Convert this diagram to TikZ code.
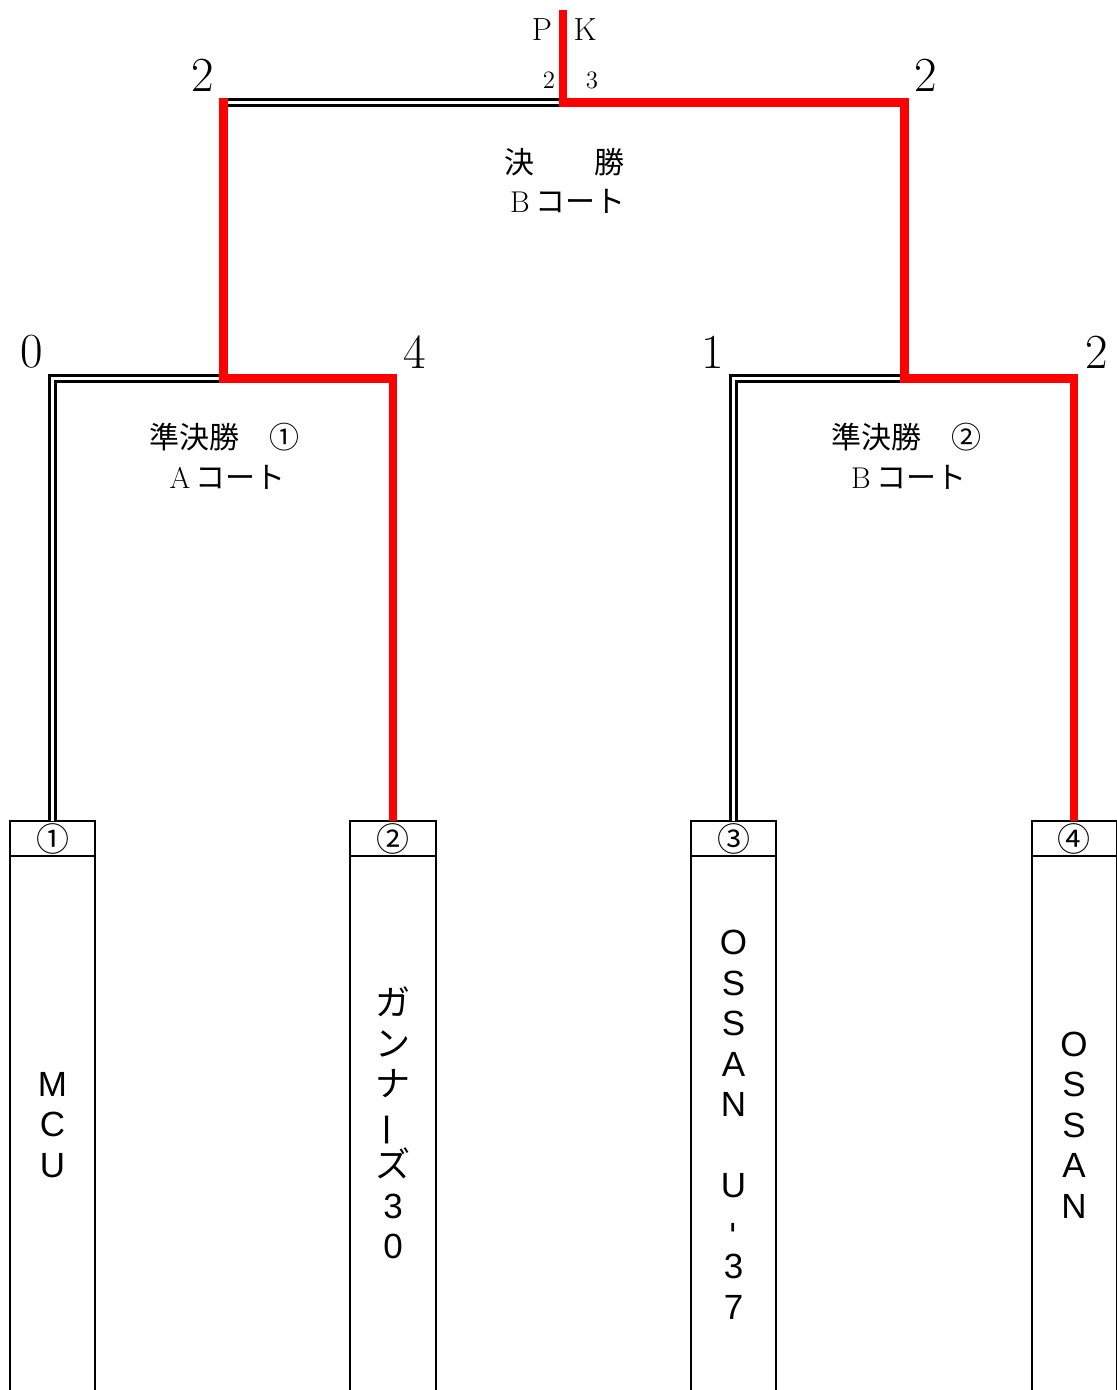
\documentclass[tikz,border=0pt]{standalone}
\usepackage{fontspec}
\newfontfamily\cjk{Noto Sans CJK JP}
\newfontfamily\sansf{Liberation Sans}
\newcommand{\fwl}[1]{\makebox[1em][c]{\rmfamily #1}}
\newcommand{\vbar}[1]{\rotatebox[origin=c]{90}{#1}}
\begin{document}
\begin{tikzpicture}[x=0.5pt,y=-0.5pt,
  redline/.style={draw={rgb,255:red,255;green,0;blue,0}, line width=4.3pt, line join=miter},
  dbl/.style={draw=black, line width=1.5pt, double=white, double distance=1.2pt, line join=miter},
  boxline/.style={draw=black, line width=1.4pt, line join=miter},
  score/.style={inner sep=0pt, font=\fontsize{24.5}{28}\selectfont},
  pk/.style={inner sep=0pt, font=\fontsize{16}{19}\selectfont},
  pksmall/.style={inner sep=0pt, font=\fontsize{12.5}{15}\selectfont},
  roundlabel/.style={inner sep=0pt, align=center, font=\cjk\fontsize{15}{20}\selectfont},
  circnum/.style={inner sep=0pt, font=\cjk\fontsize{16.5}{18}\selectfont},
  teamname/.style={inner sep=0pt, align=center, font=\sansf\fontsize{17.5}{20.25}\selectfont},
  teamcjk/.style={inner sep=0pt, align=center, font=\cjk\fontsize{17.5}{20.25}\selectfont}]
\useasboundingbox (0,0) rectangle (1116,1390);
\fill[white] (0,0) rectangle (1116,1390);

% coordinates
\coordinate (t1) at (52.5,821);
\coordinate (t2) at (393,821);
\coordinate (t3) at (733.5,821);
\coordinate (t4) at (1074,821);
\coordinate (c1) at (52.5,378.5);
\coordinate (j1) at (223.5,378.5);
\coordinate (c2) at (393,378.5);
\coordinate (c3) at (733.5,378.5);
\coordinate (j2) at (904.5,378.5);
\coordinate (c4) at (1074,378.5);
\coordinate (f1) at (223.5,102.5);
\coordinate (f1top) at (223.5,98.2);
\coordinate (top) at (563,102.5);
\coordinate (f2) at (904.5,102.5);
\coordinate (champ) at (563,10);

% boxes
\foreach \L/\R in {10/95, 350/436, 691/776, 1032/1117}{
  \draw[boxline] (\L,1395) -- (\L,821) -- (\R,821) -- (\R,1395);
  \draw[boxline] (\L,856) -- (\R,856);
}

% losers' paths (double lines)
\draw[dbl] (t1) -- (c1) -- (j1);
\draw[dbl] (t3) -- (c3) -- (j2);
\draw[dbl] (f1) -- (top);

% winners' paths (red)
\draw[redline] (t2) -- (c2) -- (j1) -- (f1top);
\draw[redline] (t4) -- (c4) -- (j2) -- (f2) -- (top) -- (champ);

% scores
\node[score] (sf1) at (203,75) {2};
\node[score] (sf2) at (926,75) {2};
\node[score] (s1) at (32,352) {0};
\node[score] (s2) at (415,352) {4};
\node[score] (s3) at (713,352) {1};
\node[score] (s4) at (1097,352) {2};
\node[pk] (pkP) at (542,30) {P};
\node[pk] (pkK) at (585,30) {K};
\node[pksmall] (pk2) at (549,80) {2};
\node[pksmall] (pk3) at (592,80) {3};

% round labels
\node[roundlabel] (fin1) at (564,162) {決　　勝};
\node[roundlabel] (fin2) at (565,201) {\fwl{B}コート};
\node[roundlabel] (sa1) at (224,437) {準決勝　①};
\node[roundlabel] (sa2) at (225,477) {\fwl{A}コート};
\node[roundlabel] (sb1) at (906,437) {準決勝　②};
\node[roundlabel] (sb2) at (906,477) {\fwl{B}コート};

% seed numbers
\node[circnum] (n1) at (52.5,839) {①};
\node[circnum] (n2) at (393,839) {②};
\node[circnum] (n3) at (733.5,839) {③};
\node[circnum] (n4) at (1074,839) {④};

% team names
\node[teamname] (team1) at (52.5,1125) {M\\C\\U};
\node[teamcjk] (team2) at (393,1123) {ガ\\ン\\ナ\\\vbar{ー}\\ズ\\{\sansf 3}\\{\sansf 0}};
\node[teamname] (team3) at (733.5,1125) {O\\S\\S\\A\\N\\\mbox{}\\U\\\hspace*{0.23em}\raisebox{0.15em}{\vbar{-}}\\3\\7};
\node[teamname] (team4) at (1074,1125) {O\\S\\S\\A\\N};
\end{tikzpicture}
\end{document}
